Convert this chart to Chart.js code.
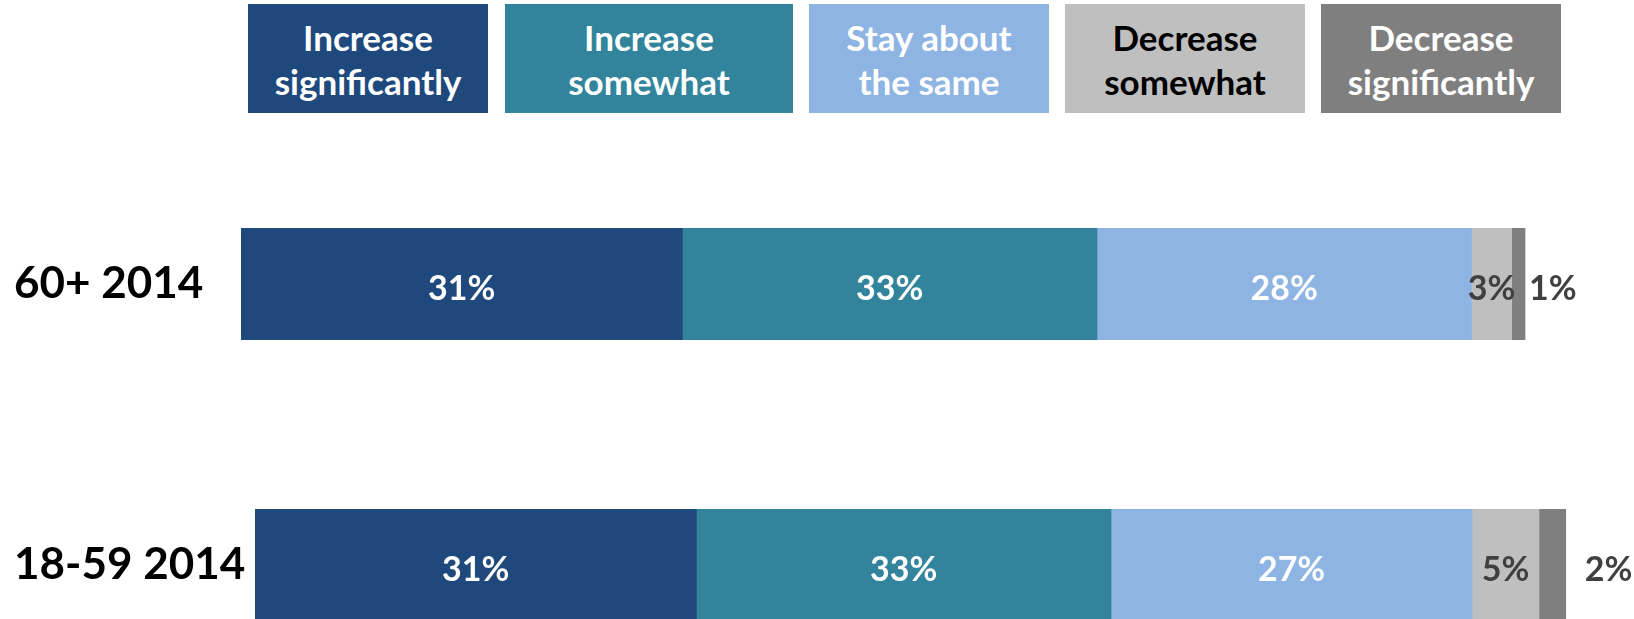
<!DOCTYPE html>
<html>
<head>
<meta charset="utf-8">
<script src="https://cdn.jsdelivr.net/npm/chart.js@4/dist/chart.umd.min.js"></script>
<style>
    html, body { margin: 0; padding: 0; background: #fff; overflow: hidden; }
    #wrap { position: relative; width: 1634px; height: 619px; overflow: hidden; }
    .key {
        position: absolute; top: 4px; height: 109px;
        display: flex; align-items: center; justify-content: center;
        text-align: center; white-space: pre-line;
        font-family: Lato, sans-serif; font-weight: bold; font-size: 35px; line-height: 44px;
    }
    canvas { position: absolute; left: 0; }
</style>
</head>
<body>
<div id="wrap">
    <div id="legend"></div>
    <canvas id="row60" width="1634" height="172" style="top:198px"></canvas>
    <canvas id="row18" width="1634" height="172" style="top:479px"></canvas>
</div>
<script>
// series / categories
var series = ['Increase\nsignificantly', 'Increase\nsomewhat', 'Stay about\nthe same', 'Decrease\nsomewhat', 'Decrease\nsignificantly'];
var rows = ['60+ 2014', '18-59 2014'];

// bar lengths as drawn, and the labels printed on them
var values60 = [33, 31, 28, 3, 1];
var values18 = [33, 31, 27, 5, 2];
var labels60 = ['31%', '33%', '28%', '3%', '1%'];
var labels18 = ['31%', '33%', '27%', '5%', '2%'];

var colors = ['#1f497d', '#31849b', '#8eb4e3', '#bfbfbf', '#7f7f7f'];
var keyText = ['#fff', '#fff', '#fff', '#000', '#fff'];
var labelColors = ['#fff', '#fff', '#fff', '#404040', '#404040'];

// legend boxes (html, big coloured tiles)
var keyLeft = [248, 505, 809, 1065, 1321];
var keyWidth = [240, 288, 240, 240, 240];
var legend = document.getElementById('legend');
series.forEach(function (name, i) {
    var d = document.createElement('div');
    d.className = 'key';
    d.style.left = keyLeft[i] + 'px';
    d.style.width = keyWidth[i] + 'px';
    d.style.background = colors[i];
    d.style.color = keyText[i];
    d.textContent = name;
    legend.appendChild(d);
});

// draws the % text on each segment, last one outside the bar
var barLabels = {
    id: 'barLabels',
    afterDatasetsDraw: function (chart, args, opts) {
        var ctx = chart.ctx;
        var n = chart.data.datasets.length;
        ctx.save();
        ctx.font = 'bold 34px Lato, sans-serif';
        ctx.textBaseline = 'middle';
        chart.data.datasets.forEach(function (ds, i) {
            chart.getDatasetMeta(i).data.forEach(function (bar, j) {
                ctx.fillStyle = labelColors[i];
                if (i === n - 1) {
                    ctx.textAlign = 'left';
                    ctx.fillText(ds.labelText[j], bar.x + opts.gap, bar.y + 5);
                } else {
                    ctx.textAlign = 'center';
                    ctx.fillText(ds.labelText[j], (bar.x + bar.base) / 2, bar.y + 5);
                }
            });
        });
        ctx.restore();
    }
};

// one chart per row: the two rows start at different x in the original
function rowChart(id, row, values, labels, axisStart, rightPad, gap) {
    var datasets = series.map(function (name, i) {
        return {
            label: name.replace('\n', ' '),
            data: [values[i]],
            labelText: [labels[i]],
            backgroundColor: colors[i],
            borderWidth: 0,
            barPercentage: 1,
            categoryPercentage: 1
        };
    });
    return new Chart(document.getElementById(id).getContext('2d'), {
        type: 'bar',
        data: { labels: [row], datasets: datasets },
        plugins: [barLabels],
        options: {
            indexAxis: 'y',
            responsive: false,
            animation: false,
            // top/bottom padding leaves room for the tick label so the bar keeps 112px
            layout: { padding: { left: 14, right: rightPad, top: 30, bottom: 30 } },
            plugins: {
                legend: { display: false },
                tooltip: { enabled: false },
                barLabels: { gap: gap }
            },
            scales: {
                x: { stacked: true, display: false, min: 0, max: 100 },
                y: {
                    stacked: true,
                    grid: { display: false, drawTicks: false },
                    border: { display: false },
                    ticks: {
                        color: '#000',
                        padding: 0,
                        crossAlign: 'far',
                        font: { family: 'Lato', weight: 'bold', size: 44 }
                    },
                    afterFit: function (scale) { scale.width = axisStart - 14; }
                }
            }
        }
    });
}

rowChart('row60', rows[0], values60, labels60, 241, 55.5, 4);
rowChart('row18', rows[1], values18, labels18, 255, 41.5, 19);
</script>
</body>
</html>
